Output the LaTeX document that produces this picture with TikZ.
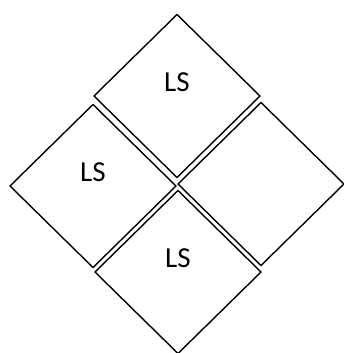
\documentclass[tikz,border=0pt]{standalone}
\usepackage{fontspec}
\setmainfont{Carlito}
\usetikzlibrary{shapes.geometric}

\begin{document}
\begin{tikzpicture}[
  x=1pt, y=-1pt,
  font=\fontsize{29}{34}\selectfont,
  cell/.style={draw, line width=1.4pt, shape=diamond, inner sep=0pt, outer sep=0pt,
    minimum width=166pt, minimum height=163pt},
  tag/.style={label={[yshift=14pt]center:#1}}
]
\useasboundingbox (0,0) rectangle (344,353);
% four cells
\node[cell, tag=LS] (ctop)    at (177,96)  {};
\node[cell, tag=LS] (cleft)   at (93,186)  {};
\node[cell]         (cright)  at (261,184) {};
\node[cell, tag=LS] (cbottom) at (178,272) {};
\end{tikzpicture}
\end{document}
